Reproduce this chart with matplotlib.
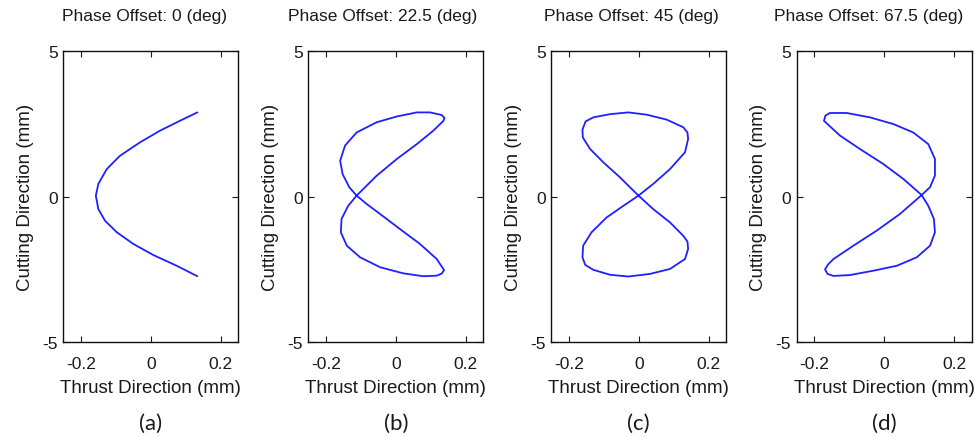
import matplotlib
matplotlib.use("Agg")
import matplotlib.pyplot as plt

plt.rcParams['font.family'] = ['Liberation Sans', 'DejaVu Sans']

# ---- data (thrust x, cutting y) ----
titles = ["Phase Offset: 0 (deg)", "Phase Offset: 22.5 (deg)",
          "Phase Offset: 45 (deg)", "Phase Offset: 67.5 (deg)"]
panel_labels = ["(a)", "(b)", "(c)", "(d)"]

a_x = [0.133, 0.083, 0.026, -0.031, -0.088, -0.126, -0.150, -0.157, -0.150,
       -0.131, -0.097, -0.050, 0.007, 0.074, 0.133]
a_y = [2.89, 2.60, 2.26, 1.86, 1.40, 0.94, 0.43, 0.03, -0.43,
       -0.83, -1.23, -1.63, -2.01, -2.38, -2.74]

b_x = [-0.112, -0.055, 0.003, 0.060, 0.107, 0.136, 0.139, 0.131, 0.098, 0.060, 0.003,
       -0.055, -0.112, -0.145, -0.159, -0.152, -0.133, -0.112, -0.136, -0.155,
       -0.157, -0.140, -0.102, -0.045, 0.021, 0.079, 0.117, 0.131, 0.138, 0.117, 0.069,
       0.012, -0.045, -0.083, -0.112]
b_y = [0.03, 0.71, 1.29, 1.80, 2.26, 2.60, 2.70, 2.80, 2.89, 2.89, 2.75,
       2.55, 2.20, 1.75, 1.23, 0.77, 0.32, 0.03, -0.32, -0.77,
       -1.23, -1.69, -2.09, -2.43, -2.64, -2.74, -2.72, -2.65, -2.53, -2.15, -1.63,
       -1.12, -0.60, -0.26, 0.03]

c_x = [-0.001, -0.054, -0.101, -0.139, -0.160, -0.161, -0.152, -0.130, -0.082, -0.030,
       0.023, 0.080, 0.127, 0.139, 0.141, 0.132, 0.089, 0.041, -0.001, -0.044, -0.092,
       -0.135, -0.159, -0.161, -0.153, -0.130, -0.082, -0.030, 0.032, 0.089, 0.132,
       0.141, 0.139, 0.127, 0.089, 0.041, -0.001]
c_y = [0.03, 0.66, 1.17, 1.63, 2.03, 2.30, 2.58, 2.72, 2.83, 2.89,
       2.81, 2.64, 2.38, 2.20, 1.98, 1.52, 0.94, 0.43, 0.03, -0.32, -0.72,
       -1.23, -1.69, -2.09, -2.35, -2.52, -2.69, -2.75, -2.66, -2.49, -2.15,
       -1.80, -1.55, -1.35, -0.89, -0.43, 0.03]

d_x = [0.107, 0.055, -0.003, -0.069, -0.126, -0.172, -0.168, -0.155, -0.107, -0.041,
       0.026, 0.083, 0.126, 0.145, 0.145, 0.131, 0.107, 0.126, 0.142, 0.145,
       0.131, 0.093, 0.036, -0.031, -0.098, -0.145, -0.162, -0.169, -0.160, -0.145, -0.088,
       -0.021, 0.045, 0.107]
d_y = [0.05, 0.60, 1.12, 1.63, 2.09, 2.60, 2.78, 2.87, 2.87, 2.72,
       2.49, 2.20, 1.80, 1.29, 0.72, 0.32, 0.05, -0.32, -0.77, -1.23,
       -1.69, -2.09, -2.38, -2.55, -2.70, -2.73, -2.66, -2.50, -2.33, -2.15, -1.69,
       -1.17, -0.60, 0.05]

curves = [(a_x, a_y), (b_x, b_y), (c_x, c_y), (d_x, d_y)]
x_ticks = [-0.2, 0, 0.2]
x_ticklabels = ["-0.2", "0", "0.2"]
y_ticks = [-5, 0, 5]
y_ticklabels = ["-5", "0", "5"]

W, H = 975, 439
fig = plt.figure(figsize=(W / 100, H / 100), dpi=100)

lefts = [63.3, 308.3, 551.3, 796.7]
title_cx = [144, 383, 631, 869]
ax_w, ax_top, ax_bot = 175, 52, 343
txt = '#1a1a1a'

for i, (xs, ys) in enumerate(curves):
    ax = fig.add_axes([lefts[i] / W, (H - ax_bot) / H, ax_w / W, (ax_bot - ax_top) / H])
    ax.plot(xs, ys, color='#2020ff', lw=1.3, solid_joinstyle='round', solid_capstyle='round')
    ax.set_xlim(-0.25, 0.25)
    ax.set_ylim(-5, 5)
    ax.set_xticks(x_ticks)
    ax.set_xticklabels(x_ticklabels)
    ax.set_yticks(y_ticks)
    ax.set_yticklabels(y_ticklabels)
    ax.tick_params(direction='in', length=4, width=0.8, top=True, right=True,
                   labelsize=12.5, colors=txt)
    ax.tick_params(axis='x', pad=10)
    ax.tick_params(axis='y', pad=4)
    for s in ax.spines.values():
        s.set_linewidth(1.0)
        s.set_color('#111111')
    ax.set_xlabel("Thrust Direction (mm)", fontsize=13.5, color=txt, labelpad=6)
    ax.set_ylabel("Cutting Direction (mm)", fontsize=13.5, color=txt, labelpad=6)
    fig.text(title_cx[i] / W, 1 - 17 / H, titles[i],
             ha='center', va='center', fontsize=12.5, color=txt)
    ax.text(0.5, -(424 - ax_bot) / (ax_bot - ax_top), panel_labels[i], transform=ax.transAxes,
            ha='center', va='center', fontsize=16, color=txt, family=['Lato', 'DejaVu Sans'])

fig.savefig("out.png", dpi=100)
